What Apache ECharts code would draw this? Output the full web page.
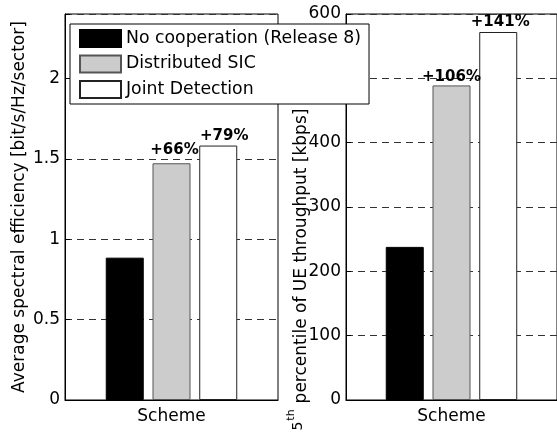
<!DOCTYPE html>
<html>
<head>
<meta charset="utf-8">
<script src="https://cdn.jsdelivr.net/npm/echarts@6/dist/echarts.min.js"></script>
<style>
  html, body { margin: 0; padding: 0; background: #fff; }
  #chart { width: 557px; height: 432px; }
</style>
</head>
<body>
<div id="chart"></div>
<script>
// data
const schemes = ['No cooperation (Release 8)', 'Distributed SIC', 'Joint Detection'];
const categories = ['Scheme'];
const spectralEff = [0.885, 1.472, 1.582];      // bit/s/Hz/sector
const throughput5 = [238, 489, 572];            // kbps, 5th percentile
const gainSE = ['', '+66%', '+79%'];
const gainTP = ['', '+106%', '+141%'];

const FONT = 'DejaVu Sans';
const fills = ['#000000', '#cccccc', '#ffffff'];
const borders = ['#000000', '#555555', '#222222'];

const chart = echarts.init(document.getElementById('chart'));

function axisY(gridIndex, max, interval, name) {
    return {
        type: 'value',
        gridIndex: gridIndex,
        min: 0,
        max: max,
        interval: interval,
        name: name,
        nameLocation: 'middle',
        nameGap: 37,
        nameTextStyle: { fontFamily: FONT, fontSize: 17, color: '#000' },
        axisLine: { show: true, lineStyle: { color: '#000', width: 1 } },
        axisTick: { show: true, inside: true, length: 5, lineStyle: { color: '#000' } },
        axisLabel: {
            fontFamily: FONT, fontSize: 17, color: '#000', margin: 5,
            // hide the odd top tick (2.4) that is not a multiple of the interval
            formatter: v => (v > max - interval / 2 && max % interval !== 0) ? '' : String(v)
        },
        splitLine: { show: true, lineStyle: { color: '#333', type: [7, 5], width: 1 } }
    };
}

function axisX(gridIndex) {
    return {
        type: 'category',
        gridIndex: gridIndex,
        data: categories,
        axisLine: { show: true, lineStyle: { color: '#000', width: 1 } },
        axisTick: { show: false },
        axisLabel: { fontFamily: FONT, fontSize: 17, color: '#000', margin: 8 }
    };
}

function makeSeries(values, gains, idx, nudges) {
    return schemes.map((name, i) => ({
        name: name,
        type: 'bar',
        xAxisIndex: idx,
        yAxisIndex: idx,
        barWidth: 38,
        barGap: '23%',
        data: [values[i]],
        itemStyle: { color: fills[i], borderColor: borders[i], borderWidth: 1 },
        label: {
            show: gains[i] !== '',
            position: 'top',
            distance: 2,
            offset: nudges[i],
            formatter: gains[i],
            fontFamily: FONT,
            fontSize: 15,
            fontWeight: 'bold',
            color: '#000'
        },
        emphasis: { disabled: true }
    }));
}

const option = {
    animation: false,
    backgroundColor: '#fff',
    grid: [
        { left: 65, top: 14, right: 279, bottom: 32, show: true, borderColor: '#000', borderWidth: 1 },
        { left: 346, top: 14, right: -2, bottom: 32, show: true, borderColor: '#000', borderWidth: 1 }
    ],
    xAxis: [axisX(0), axisX(1)],
    yAxis: [
        axisY(0, 2.4, 0.5, 'Average spectral efficiency [bit/s/Hz/sector]'),
        axisY(1, 600, 100, '')
    ],
    legend: {
        orient: 'vertical',
        left: 70,
        top: 24,
        selectedMode: false,
        icon: 'rect',
        itemWidth: 41,
        itemHeight: 17,
        itemGap: 6.5,
        padding: [5, 8, 5, 9],
        backgroundColor: '#fff',
        borderColor: '#000',
        borderWidth: 1,
        borderRadius: 0,
        textStyle: { fontFamily: FONT, fontSize: 17.3, color: '#000', lineHeight: 17 },
        data: schemes
    },
    graphic: [
        {
            type: 'text', x: 302, y: 256, rotation: Math.PI / 2, z: 10,
            style: { text: 'percentile of UE throughput [kbps]', font: '17px "DejaVu Sans"', fill: '#000', align: 'center', verticalAlign: 'middle' }
        },
        {
            type: 'text', x: 298, y: 426, rotation: Math.PI / 2, z: 10,
            style: { text: '5', font: '14px "DejaVu Sans"', fill: '#000', align: 'center', verticalAlign: 'middle' }
        },
        {
            type: 'text', x: 291, y: 415, rotation: Math.PI / 2, z: 10,
            style: { text: 'th', font: '11px "DejaVu Sans"', fill: '#000', align: 'center', verticalAlign: 'middle' }
        }
    ],
    series: [].concat(
        makeSeries(spectralEff, gainSE, 0, [[0, 0], [3, -4], [6, 0]]),
        makeSeries(throughput5, gainTP, 1, [[0, 0], [0, 1], [2, 0]])
    )
};

chart.setOption(option);
</script>
</body>
</html>
